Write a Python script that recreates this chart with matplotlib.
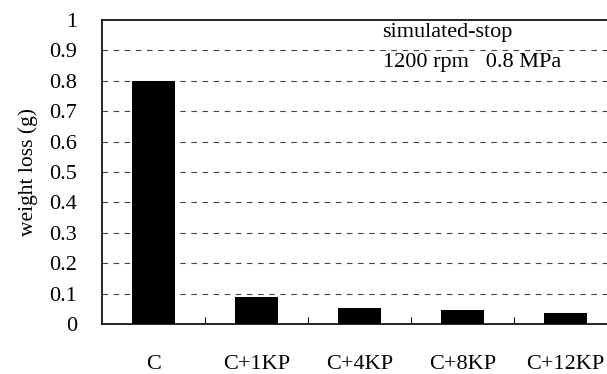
import numpy as np
import matplotlib
matplotlib.use('Agg')
import matplotlib.pyplot as plt

categories = ['C', 'C+1KP', 'C+4KP', 'C+8KP', 'C+12KP']
weight_loss = [0.8, 0.09, 0.053, 0.047, 0.037]
y_ticks = [0, 0.1, 0.2, 0.3, 0.4, 0.5, 0.6, 0.7, 0.8, 0.9, 1]
y_tick_labels = ['0', '0.1', '0.2', '0.3', '0.4', '0.5', '0.6', '0.7', '0.8', '0.9', '1']

plt.rcParams['font.family'] = ['Liberation Serif', 'DejaVu Serif']

W, H = 607, 374
fig = plt.figure(figsize=(W / 100, H / 100), dpi=100)
# axes run a bit past the right edge of the picture, like the reference
ax = fig.add_axes([102/W, 1 - 324/H, 515/W, 304/H])

x = np.arange(len(categories))
ax.bar(x, weight_loss, width=0.41, color='black', zorder=3)

ax.set_xlim(-0.5, len(categories) - 0.5)
ax.set_ylim(0, 1)

ax.set_yticks(y_ticks)
ax.set_yticklabels(y_tick_labels, fontsize=16)
ax.tick_params(axis='y', length=0, pad=18)

ax.set_xticks(x)
ax.set_xticklabels(categories, fontsize=16)
ax.tick_params(axis='x', length=0, pad=22)
ax.set_xticks(np.arange(0.5, len(categories) - 0.5, 1), minor=True)
ax.tick_params(axis='x', which='minor', direction='in', length=5, width=0.8)

for v in y_ticks[1:-1]:
    ax.axhline(v, color='#444444', linestyle=(0, (5, 5)), linewidth=0.8, zorder=1)

for s in ['left', 'bottom', 'top']:
    ax.spines[s].set_linewidth(1.2)
ax.spines['right'].set_visible(False)

ax.set_ylabel('weight loss (g)', fontsize=15.5, labelpad=8)

fig.text(382 / W, 1 - 32 / H, 'simulated-stop', fontsize=16,
         va='center', ha='left')
fig.text(383 / W, 1 - 63 / H, '1200 rpm   0.8 MPa', fontsize=16,
         va='center', ha='left')

plt.savefig('out.png', dpi=100)
